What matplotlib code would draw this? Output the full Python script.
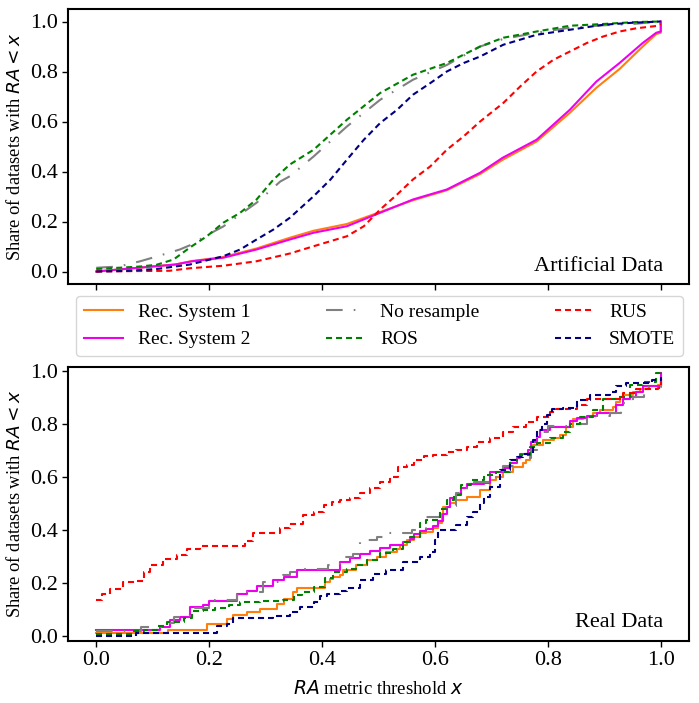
import matplotlib
matplotlib.use("Agg")
import matplotlib.pyplot as plt

plt.rcParams['font.family'] = ['Liberation Serif', 'DejaVu Serif']
plt.rcParams['mathtext.fontset'] = 'dejavusans'

# ---------------- Artificial data (top panel) ----------------
art_x_rec = [0.0, 0.08, 0.14, 0.17, 0.225, 0.284, 0.343, 0.385, 0.444, 0.503, 0.561,
             0.621, 0.68, 0.72, 0.78, 0.839, 0.886, 0.927, 0.968, 0.992, 1.0, 1.0]
art_y_rec1 = [0.0, 0.016, 0.028, 0.042, 0.058, 0.092, 0.135, 0.163, 0.19, 0.238, 0.285,
              0.325, 0.39, 0.447, 0.52, 0.635, 0.735, 0.81, 0.9, 0.95, 0.955, 1.0]
art_y_rec2 = [0.0, 0.016, 0.028, 0.041, 0.055, 0.088, 0.128, 0.155, 0.181, 0.235, 0.288,
              0.328, 0.395, 0.455, 0.527, 0.647, 0.76, 0.834, 0.914, 0.955, 0.96, 1.0]

art_x_nores = [0.0, 0.04, 0.078, 0.107, 0.148, 0.166, 0.2, 0.225, 0.284, 0.326, 0.343, 0.385,
               0.444, 0.503, 0.561, 0.621, 0.68, 0.721, 0.78, 0.839, 0.9, 0.95, 1.0]
art_y_nores = [0.015, 0.02, 0.041, 0.06, 0.088, 0.105, 0.15, 0.18, 0.275, 0.36, 0.381, 0.46,
               0.58, 0.687, 0.767, 0.826, 0.9, 0.93, 0.955, 0.975, 0.985, 0.99, 1.0]

art_x_ros = [0.0, 0.048, 0.078, 0.107, 0.137, 0.166, 0.196, 0.225, 0.255, 0.284, 0.314, 0.343,
             0.385, 0.444, 0.503, 0.561, 0.621, 0.68, 0.721, 0.78, 0.839, 0.898, 0.957, 1.0]
art_y_ros = [0.01, 0.016, 0.02, 0.027, 0.048, 0.096, 0.141, 0.195, 0.235, 0.288, 0.368, 0.428,
             0.487, 0.607, 0.714, 0.787, 0.834, 0.9, 0.935, 0.96, 0.983, 0.99, 0.998, 1.0]

art_x_rus = [0.0, 0.13, 0.166, 0.225, 0.284, 0.343, 0.385, 0.444, 0.474, 0.503, 0.533, 0.561,
             0.592, 0.621, 0.651, 0.68, 0.721, 0.751, 0.78, 0.81, 0.839, 0.869, 0.898, 0.927,
             0.957, 0.992, 1.0]
art_y_rus = [0.0, 0.003, 0.013, 0.023, 0.041, 0.072, 0.101, 0.141, 0.181, 0.248, 0.308, 0.368,
             0.421, 0.487, 0.541, 0.6, 0.674, 0.74, 0.80, 0.847, 0.88, 0.914, 0.94, 0.96,
             0.973, 0.982, 0.99]

art_x_smote = [0.0, 0.05, 0.107, 0.166, 0.225, 0.255, 0.284, 0.314, 0.343, 0.385, 0.415, 0.444,
               0.474, 0.503, 0.533, 0.561, 0.592, 0.621, 0.651, 0.68, 0.721, 0.78, 0.839,
               0.898, 0.95, 1.0]
art_y_smote = [0.0, 0.002, 0.01, 0.028, 0.061, 0.088, 0.128, 0.168, 0.215, 0.301, 0.368, 0.447,
               0.527, 0.594, 0.647, 0.707, 0.754, 0.80, 0.834, 0.86, 0.907, 0.947, 0.967,
               0.987, 0.995, 1.0]

# ---------------- Real data (bottom panel, step curves) ----------------
real_x_rec1 = [0.0, 0.128, 0.196, 0.231, 0.243, 0.267, 0.29, 0.32, 0.332, 0.349, 0.355, 0.405,
               0.414, 0.42, 0.432, 0.438, 0.461, 0.479, 0.497, 0.514, 0.532, 0.538, 0.55, 0.562,
               0.573, 0.585, 0.597, 0.606, 0.612, 0.615, 0.627, 0.638, 0.656, 0.674, 0.68,
               0.697, 0.709, 0.721, 0.738, 0.756, 0.762, 0.768, 0.771, 0.774, 0.792, 0.81,
               0.821, 0.833, 0.845, 0.862, 0.88, 0.892, 0.915, 0.921, 0.927, 0.933, 0.951,
               0.963, 0.98, 0.995, 1.0]
real_y_rec1 = [0.012, 0.025, 0.045, 0.065, 0.079, 0.092, 0.104, 0.12, 0.14, 0.165, 0.18, 0.205,
               0.215, 0.224, 0.23, 0.251, 0.268, 0.286, 0.299, 0.318, 0.33, 0.343, 0.362, 0.374,
               0.387, 0.393, 0.406, 0.425, 0.462, 0.487, 0.5, 0.513, 0.525, 0.525, 0.55,
               0.588, 0.6, 0.619, 0.638, 0.651, 0.663, 0.688, 0.707, 0.72, 0.739, 0.745,
               0.758, 0.789, 0.82, 0.827, 0.839, 0.852, 0.864, 0.883, 0.9, 0.908, 0.921,
               0.933, 0.942, 0.946, 0.965]

real_x_rec2 = [0.0, 0.10, 0.113, 0.131, 0.149, 0.166, 0.19, 0.2, 0.237, 0.249, 0.267, 0.284,
               0.314, 0.332, 0.355, 0.411, 0.432, 0.449, 0.467, 0.485, 0.503, 0.52, 0.544,
               0.555, 0.562, 0.573, 0.585, 0.597, 0.606, 0.615, 0.621, 0.627, 0.638, 0.647,
               0.656, 0.686, 0.697, 0.721, 0.733, 0.745, 0.751, 0.765, 0.771, 0.78, 0.786,
               0.804, 0.839, 0.851, 0.869, 0.887, 0.921, 0.933, 0.945, 0.957, 0.969, 1.0]
real_y_rec2 = [0.022, 0.022, 0.035, 0.06, 0.073, 0.11, 0.117, 0.134, 0.134, 0.158, 0.172, 0.19,
               0.21, 0.224, 0.25, 0.25, 0.28, 0.295, 0.31, 0.322, 0.334, 0.345, 0.354,
               0.366, 0.385, 0.398, 0.405, 0.415, 0.435, 0.46, 0.487, 0.52, 0.535, 0.56,
               0.575, 0.578, 0.62, 0.635, 0.652, 0.672, 0.688, 0.7, 0.73, 0.75, 0.776,
               0.789, 0.81, 0.822, 0.828, 0.842, 0.87, 0.893, 0.902, 0.918, 0.943, 0.99]

real_x_nores = [0.0, 0.08, 0.12, 0.137, 0.166, 0.2, 0.25, 0.26, 0.296, 0.33, 0.343, 0.36, 0.41,
                0.432, 0.455, 0.467, 0.497, 0.514, 0.53, 0.56, 0.585, 0.609, 0.62, 0.638,
                0.656, 0.67, 0.697, 0.72, 0.745, 0.77, 0.78, 0.8, 0.84, 0.87, 0.91, 0.93,
                0.95, 0.97, 1.0]
real_y_nores = [0.02, 0.035, 0.05, 0.073, 0.105, 0.136, 0.155, 0.167, 0.205, 0.23, 0.24, 0.255,
                0.27, 0.3, 0.31, 0.362, 0.374, 0.387, 0.39, 0.4, 0.45, 0.46, 0.49, 0.538,
                0.56, 0.58, 0.6, 0.64, 0.67, 0.7, 0.77, 0.79, 0.8, 0.83, 0.84, 0.88,
                0.9, 0.94, 0.96]

real_x_ros = [0.0, 0.065, 0.085, 0.107, 0.125, 0.155, 0.17, 0.19, 0.21, 0.235, 0.255, 0.29,
              0.33, 0.35, 0.365, 0.385, 0.405, 0.42, 0.444, 0.461, 0.479, 0.503, 0.526, 0.544,
              0.555, 0.573, 0.585, 0.609, 0.621, 0.633, 0.647, 0.663, 0.686, 0.709, 0.733,
              0.751, 0.768, 0.78, 0.804, 0.827, 0.839, 0.857, 0.88, 0.898, 0.921, 0.945,
              0.969, 0.992, 1.0]
real_y_ros = [0.01, 0.02, 0.025, 0.04, 0.055, 0.07, 0.095, 0.1, 0.105, 0.118, 0.128, 0.133,
              0.138, 0.155, 0.168, 0.185, 0.22, 0.243, 0.255, 0.268, 0.286, 0.314, 0.33, 0.355,
              0.374, 0.425, 0.437, 0.481, 0.513, 0.531, 0.569, 0.588, 0.607, 0.619, 0.663,
              0.682, 0.714, 0.726, 0.745, 0.77, 0.801, 0.827, 0.852, 0.892, 0.902, 0.946,
              0.958, 0.99, 0.996]

real_x_rus = [0.0, 0.01, 0.025, 0.048, 0.072, 0.085, 0.096, 0.119, 0.143, 0.16, 0.184, 0.243,
              0.264, 0.278, 0.326, 0.343, 0.367, 0.385, 0.403, 0.417, 0.432, 0.449, 0.467,
              0.485, 0.503, 0.52, 0.535, 0.55, 0.562, 0.58, 0.597, 0.621, 0.638, 0.656, 0.674,
              0.697, 0.721, 0.738, 0.762, 0.78, 0.804, 0.815, 0.839, 0.851, 0.869, 0.922,
              0.933, 0.957, 0.995, 1.0]
real_y_rus = [0.136, 0.16, 0.178, 0.205, 0.207, 0.24, 0.27, 0.29, 0.305, 0.33, 0.34, 0.34,
              0.357, 0.387, 0.406, 0.424, 0.456, 0.469, 0.494, 0.506, 0.513, 0.519, 0.538,
              0.557, 0.582, 0.598, 0.636, 0.644, 0.663, 0.679, 0.682, 0.692, 0.701, 0.711, 0.732,
              0.745, 0.77, 0.789, 0.808, 0.827, 0.845, 0.854, 0.854, 0.87, 0.892, 0.892,
              0.915, 0.93, 0.934, 0.97]

real_x_smote = [0.0, 0.07, 0.214, 0.231, 0.243, 0.29, 0.314, 0.343, 0.361, 0.385, 0.396, 0.408,
                0.432, 0.444, 0.467, 0.491, 0.514, 0.544, 0.573, 0.591, 0.6, 0.606, 0.627,
                0.638, 0.656, 0.668, 0.68, 0.686, 0.697, 0.715, 0.733, 0.745, 0.756, 0.774,
                0.78, 0.789, 0.798, 0.807, 0.827, 0.851, 0.874, 0.91, 0.921, 0.939, 0.969,
                0.984, 1.0]
real_y_smote = [0.0, 0.012, 0.04, 0.045, 0.067, 0.07, 0.077, 0.09, 0.11, 0.13, 0.15, 0.16,
                0.17, 0.18, 0.211, 0.236, 0.249, 0.28, 0.299, 0.318, 0.362, 0.4, 0.4,
                0.418, 0.45, 0.469, 0.5, 0.525, 0.563, 0.626, 0.663, 0.676, 0.688, 0.739,
                0.776, 0.801, 0.833, 0.854, 0.858, 0.889, 0.908, 0.921, 0.942, 0.952, 0.952,
                0.965, 0.977]

labels = ["Rec. System 1", "Rec. System 2", "No resample", "ROS", "RUS", "SMOTE"]
colors = ["#ff7f0e", "#ee00ee", "gray", "green", "red", "navy"]
LW = 1.5
styles = ["-", "-", (0, (8, 5.3, 0.8, 5.3)), (0, (2.9, 1.9)), (0, (2.9, 1.9)), (0, (2.9, 1.9))]

art = [(art_x_rec, art_y_rec1), (art_x_rec, art_y_rec2), (art_x_nores, art_y_nores),
       (art_x_ros, art_y_ros), (art_x_rus, art_y_rus), (art_x_smote, art_y_smote)]
real = [(real_x_rec1, real_y_rec1), (real_x_rec2, real_y_rec2), (real_x_nores, real_y_nores),
        (real_x_ros, real_y_ros), (real_x_rus, real_y_rus), (real_x_smote, real_y_smote)]

fig = plt.figure(figsize=(6.99, 7.03), dpi=100)
ax1 = fig.add_axes([68 / 699, 1 - 284 / 703, 621 / 699, 275 / 703])
ax2 = fig.add_axes([68 / 699, 1 - 641 / 703, 621 / 699, 274 / 703], sharex=ax1)

handles = []
for (x, y), lab, c, ls in zip(art, labels, colors, styles):
    h, = ax1.plot(x, y, color=c, linestyle=ls, lw=LW, label=lab)
    handles.append(h)
for (x, y), lab, c, ls in zip(real, labels, colors, styles):
    ax2.plot(x, y, color=c, linestyle=ls, lw=LW, drawstyle='steps-post')

ax1.set_xlim(-0.05, 1.05)
ax1.set_ylim(-0.05, 1.05)
ax2.set_ylim(-0.018, 1.014)
ticks = [0.0, 0.2, 0.4, 0.6, 0.8, 1.0]
for ax in (ax1, ax2):
    ax.set_xticks(ticks)
    ax.set_yticks(ticks)
    ax.set_yticklabels([f"{t:.1f}" for t in ticks])
    ax.tick_params(labelsize=16, length=4.5, width=1.0, direction='out', pad=3)
    for sp in ax.spines.values():
        sp.set_linewidth(1.5)
    ax.set_ylabel(r"Share of datasets with $RA < x$", fontsize=13.3, labelpad=4)
ax1.tick_params(labelbottom=False)
ax2.set_xticklabels([f"{t:.1f}" for t in ticks])
ax2.set_xlabel(r"$RA$ metric threshold $x$", fontsize=13.5, labelpad=7)

ax1.text(0.958, 0.047, "Artificial Data", transform=ax1.transAxes, ha='right',
         va='baseline', fontsize=16)
ax2.text(0.958, 0.051, "Real Data", transform=ax2.transAxes, ha='right',
         va='baseline', fontsize=16)

fig.legend(handles=handles, labels=labels, ncol=3, fontsize=14, mode='expand',
           bbox_to_anchor=(76 / 699, 1 - 359 / 703, 607 / 699, 66 / 703),
           loc='center', handlelength=2.0, borderaxespad=0.0)

fig.savefig("out.png", dpi=100)
